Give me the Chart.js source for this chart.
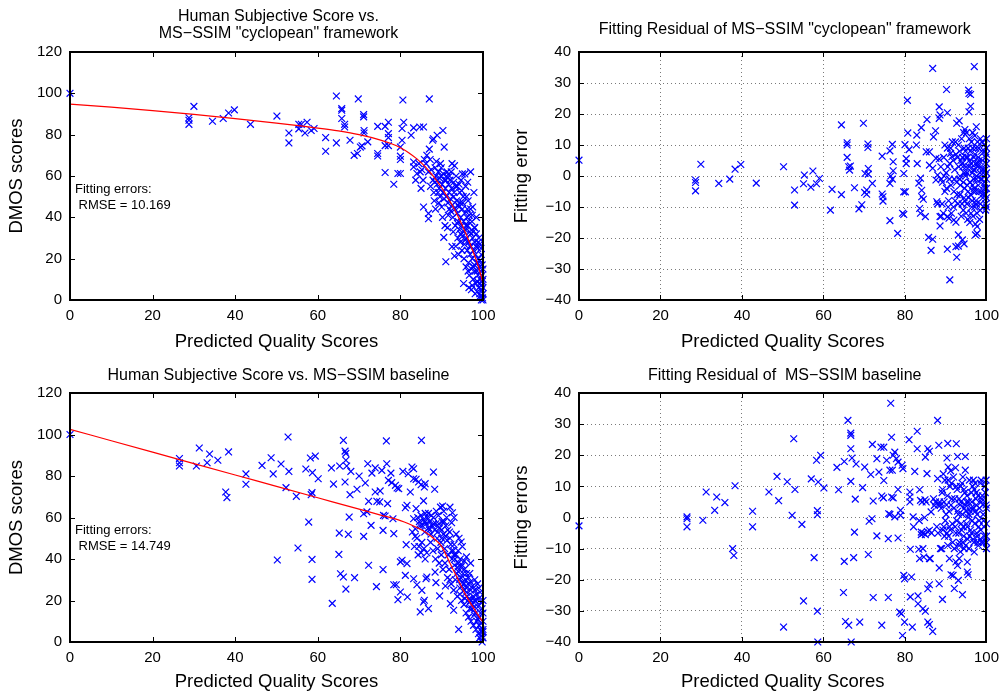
<!DOCTYPE html>
<html lang="en">
<head>
<meta charset="UTF-8">
<title>MS-SSIM fitting</title>
<script src="https://cdn.jsdelivr.net/npm/chart.js@4.4.3/dist/chart.umd.min.js"></script>
<style>
    * {
        margin: 0;
        padding: 0;
    }
    body {
        width: 1006px;
        height: 692px;
        background: #fff;
        position: relative;
        overflow: hidden;
    }
    canvas {
        position: absolute;
    }
</style>
</head>
<body>
<canvas id="cycScore" width="503" height="352" style="left:0;top:0"></canvas>
<canvas id="cycRes" width="503" height="352" style="left:503px;top:0"></canvas>
<canvas id="baseScore" width="503" height="346" style="left:0;top:346px"></canvas>
<canvas id="baseRes" width="503" height="346" style="left:503px;top:346px"></canvas>
<script>
const FONT = '"Liberation Sans", Arial, Helvetica, sans-serif';

// ---- data: [predicted score, value] ----
const cycScores = [
    [0,100],[28.8,88.2],[28.8,87],[28.8,85],[30,93.7],[34.5,86.5],[37.1,87.8],[38.4,90.5],[39.8,92],[43.7,85],
    [50.1,89],[53,80.8],[53,76],[55.4,85],[55.4,82.8],[56,85],[57.4,86],[56.9,80.8],[58.4,82],[59.1,83],
    [61.9,78.6],[61.9,72],[64.5,98.7],[64.5,76],[65.8,92.6],[65.8,91.8],[65.8,87.8],[66.5,85],[66.5,83.7],[67.8,77.3],
    [69.8,97.3],[68.8,70],[69.6,70.9],[70.3,74],[70.7,74.6],[71.1,89.7],[71.1,88.6],[71.2,82],[71.2,80.8],[72.1,76.5],
    [74.5,84],[74.5,70.9],[74.5,69.7],[76.3,84],[77.1,86],[77.1,80.5],[77.1,78.6],[76.3,74.7],[77.1,74.7],[76.3,61.7],
    [78.4,56],[79.4,61.2],[80,61.2],[80,68],[80,69.6],[80.4,83],[80.8,86],[80.6,96.8],[80.4,77.3],[80,74],
    [82.6,79.7],[83.2,83.3],[84.7,83.7],[85.6,83.7],[87,97.3],[87.8,77.3],[88.9,79.7],[88,78],[90.3,82],[90.6,74],
    [83.2,66.8],[83.2,64.4],[84,61.2],[83.7,58],[85,54],[85.6,45],[86.8,41.9],[86.8,39.3],[90.5,30.3],[91,18.5],
    [92.5,25.8],[93.1,21.3],[84.5,66],[85.2,63],[85.8,68],[86.4,70],[87,73],[85.5,58],[84.8,62],
    [86.2,66],[86.8,62],[87.2,68],[87.5,63],[87.9,58],[87.3,55],[88.1,52],[88.4,64],[88.6,60],[88.2,48],
    [88.9,56],[88.7,67],[88.5,44],[89,58],[89.2,62],[89.4,54],[89.6,50],[89.8,60],[89.3,47],[89.9,64],
    [90.1,56],[90.3,52],[90,45],[90.4,61],[90.2,40],[89.7,66],[90.7,58],[90.9,54],[91.1,50],[91.3,62],
    [91.5,47],[91.7,56],[91.9,44],[91.2,60],[91.6,41],[91.8,52],[90.8,36],[91.4,35],[92,58],[92.1,49],
    [92.3,62],[92.4,54],[92.6,46],[92.7,40],[92.9,57],[93,52],[93.2,44],[93.3,36],[93.5,60],[93.6,48],
    [93.8,42],[93.9,30],[92.8,33],[93.4,26],[93.7,55],[94,38],[92.5,66],[93.1,65],[94.2,45],[94.3,34],
    [94.4,52],[94.5,28],[94.6,40],[94.7,58],[94.8,36],[94.9,24],[95,44],[95.1,31],[95.2,50],[95.3,38],
    [95.4,20],[95.5,27],[95.6,42],[95.7,34],[95.8,55],[95.9,16],[94.1,22],[95,61],[95.6,61],[94.5,47],
    [95.3,8],[96,30],[96.1,40],[96.2,24],[96.3,36],[96.4,48],[96.5,18],[96.6,28],[96.7,12],[96.8,33],
    [96.9,22],[97,44],[97.1,26],[97.2,15],[97.3,38],[97.4,20],[97.5,30],[97.6,10],[97.7,24],[97.8,52],
    [97.9,17],[97,62],[96.3,57],[96.6,6],[97.4,7],[97.9,35],[97.5,45],[96,50],[98,28],[98.1,14],
    [98.2,22],[98.3,8],[98.4,32],[98.5,18],[98.6,4],[98.7,25],[98.8,12],[98.9,20],[99,6],[99.1,16],
    [99.2,27],[99.3,10],[99.4,2],[99.5,14],[99.6,22],[99.7,5],[99.8,9],[99.9,1],[100,3],[100,0],
    [99.8,17],[99.2,3],[98.4,40],[99,30],[98.6,9],[99.5,7],[100,6],[99.6,0],
    [88.3,57],[89.1,52],[89.5,59],[90.6,49],[91,58],[91.9,60],[92.2,43],[92.9,50],[93.4,55],[93.8,37],
    [94.2,56],[94.6,32],[95.1,47],[95.4,33],[95.7,29],[96.2,44],[96.5,38],[96.8,26],[97.1,32],[97.4,41],
    [97.7,16],[98,35],[98.3,26],[98.6,14],[98.9,28],[99.2,19],[99.5,25],[99.8,12],[100,15],[100,10],
    [96.4,14],[97.2,5],[98.1,3],[98.7,18],[99.3,8],[94.8,53],[93.9,46],[95.9,36],[96.7,41],[97.6,33]
];
const cycFit = [
    [0,94.8],[10,93.3],[20,91.6],[30,89.8],[40,87.8],[50,85.6],[60,83.2],[65,81.8],[70,80],[75,77.5],
    [78,75.5],[80,73.7],[82,71.3],[84,68.3],[86,64.5],[88,59.8],[90,54.3],[92,47.8],[94,40.3],[96,31.5],
    [98,21.3],[99,15.5],[100,8]
];
const cycResidual = [
    [0,5.1],[28.6,-1.3],[28.6,-2.1],[28.6,-4.8],[29.9,3.8],[34.3,-2.4],[37,-1],[38.3,2.2],[39.7,3.7],[43.5,-2.3],
    [50.2,3],[52.9,-4.5],[52.9,-9.4],[55.3,0.3],[55.1,-2.5],[56.9,-3.6],[57.4,1.6],[58.3,-2.5],[59,-0.8],[61.7,-11],
    [62.1,-4.3],[64.4,16.5],[64.4,-6],[65.8,10.7],[65.8,10],[65.8,6],[66.2,3],[66.4,1.9],[66.6,3.2],[67.6,-3.8],
    [68.7,-10.6],[69.4,-9.3],[69.8,17],[70.2,0.8],[70.6,-4.5],[70.1,-5.3],[70.6,-5.9],[70.9,10.3],[70.9,9.2],[71,2.4],
    [71,0.6],[72,-2.4],[74.4,6.4],[74.4,-5.8],[74.6,-6.7],[74.6,-8.1],[76.3,8.1],[76.5,0],[76.3,-2.4],[76.3,-14.4],
    [76.9,10.2],[77.1,4.6],[77.1,1.7],[76.9,-1],[78.2,-18.5],[79.4,-12],[79.7,-12.4],[79.7,0.8],[79.7,-5.1],[80.1,-5.1],
    [80,10.1],[80.3,5.6],[80.3,4],[80.6,24.4],[80.7,13.9],[81,8.5],[82.8,10],[82.9,13.2],[83,4],[83.4,-2.3],
    [83.8,-0.7],[83.6,-10.5],[83.8,-12],[84,15.6],[84.1,-4.6],[84.1,-6.7],[84.5,-7.5],[85,-13.1],[85.4,18.2],[85.2,7.8],
    [86,7.8],[85.8,-19.8],[86.8,-20.4],[86.4,-24],[86.8,34.7],[87,12.6],[87.5,14.6],[86,3.5],[86.8,2.5],[87.6,5.7],
    [88.4,5.5],[87.6,-1.3],[88,0.3],[87.8,-8.3],[88,-9],[88.4,22.3],[88.6,19.7],[88.4,18.6],[88.6,-13.1],[88.6,-16.1],
    [90.2,27.9],[90.4,20.4],[90.4,-23.6],[91,-33.5],[90.4,-13.1],[90.8,-13.6],[92,-14.2],[92.5,-14.9],[92.7,-26.2],[92.5,-22.8],
    [93.1,-22.6],[93.1,-19],[94.1,-20.6],[94.5,-21.9],[95.6,27.7],[95.7,26.6],[96.1,26.3],[96.1,22.5],[95.7,20.7],[97,35.3],
    [97.5,15.9],[97.3,-19],[97.7,-18.5],[97.3,-15.5],[97.7,-16.3],[92.7,17],[93.3,17.8],[91.2,7.3],[91.5,6.2],
    [88.8,3],[89.2,-2],[89.5,6],[89.8,-5],[90.1,1],[90.4,9],[90.7,-8],[91,4],[91.3,-3],[91.6,11],
    [91.9,-10],[92.2,2],[92.5,7],[92.8,-6],[93.1,10],[93.4,-1],[93.7,5],[94,-9],[94.2,3],[94.4,14],
    [94.6,-4],[94.8,8],[95,-12],[95.2,1],[95.4,6],[95.6,-7],[95.8,12],[96,-2],[96.2,4],[96.4,-10],
    [96.6,9],[96.8,-5],[97,2],[97.2,7],[97.4,-8],[97.6,0],[97.8,11],[98,-3],[98.2,5],[98.4,-11],
    [98.6,3],[98.8,8],[99,-6],[99.2,1],[99.4,10],[99.6,-4],[99.8,6],[100,-1],[100,-7],[100,4],
    [100,12],[99.8,-9],[99.5,-2],[99.1,-7],[98.9,-1],[98.5,12],[98.1,9],[97.7,-12],[97.3,4],[96.9,-1],
    [96.5,1],[96.1,-6],[95.7,3],[95.3,-3],[94.9,0],[94.5,-7],[94.1,6],[93.6,-3],[93.2,3],[92.7,-2],
    [92.3,-8],[91.8,5],[91.4,-12],[90.9,-1],[90.5,3],[90.2,-4],[89.6,0],[89.1,-9],[88.9,-1],[95.5,9],
    [96.3,11],[95.1,14],[94.7,15],[97.1,13],[98.3,-14],[99.3,-10],[96.7,-13],[95.9,-15],[97.5,-9],[98.7,-5],
    [99.7,2],[96.9,6],[95.2,-9],[94.3,-11],[93.8,-13],[93,-9],[92,-5],[97.9,3],[98.4,1],[99,5],
    [99.4,-3],[100,9],[100,-4],[94.6,1],[95.8,5],[96.6,-3],[97.4,9],[93.4,8],[92.4,11],[91.2,9],
    [90.6,-10],[89.4,-12],[88.9,-13],[89.8,10],[100,1],
    [93.5,0],[94,4],[94.5,9],[95,6],[95.5,-5],[96,8],[96.5,-8],[97,-4],[97.5,-1],[98,6],
    [98.5,-9],[99,2],[99.5,8],[100,-10],[100,7],[99.7,-6],[98.2,-5],[97.8,4],[96.8,2],[95.9,-2],
    [95,3],[94.3,-2],[93.9,12],[92.9,6],[92.1,-1],[97.1,-10],[96.2,-12],[98.9,11],[99.8,-11],[96.6,14],
    [95.4,-14],[94.7,-8],[93.5,-6],[98.6,-1],[97.3,-5]
];
const baseScores = [
    [0,100],[26.5,88.4],[26.5,86.4],[26.5,84.8],[30.6,84.8],[31.3,93.5],[33.2,86.4],[33.8,90.6],[35.8,87.6],[37.7,72.3],
    [38,69.6],[38.4,91.6],[42.6,81],[42.6,76],[46.5,85.1],[48.7,88.8],[49.2,81],[50.2,39.5],[51.1,85.8],[52.3,74.4],
    [52.8,98.8],[53,82.2],[54.8,70.2],[55.2,45.3],[57.1,83.4],[57.8,57.8],[58.2,88.7],[59.4,89.6],[58.6,72],[58.4,71],
    [58.7,81.6],[58.6,39.8],[58.6,30.2],[60.1,78.7],[63.3,83.9],[63.5,18.6],[63.8,76.1],[65.2,52.5],[65.1,42.2],[65.3,84.8],
    [65.5,32.9],[66.2,31.3],[66.2,97.2],[66.6,92],[66.8,90.9],[66.8,87.6],[67,84.8],[66.6,77.1],[66.8,25.5],[67.4,51.9],
    [67.6,60.2],[67.8,71],[68,82.2],[68.9,31],[69.5,73.6],[70,80],[71.1,50.9],[71.1,61.8],[71.9,62.7],[71.5,76.6],
    [72.1,85.9],[72.3,37],[72.3,67.8],[72.9,56.2],[73.1,81.4],[73.9,83.9],[73.9,72.3],[74.2,26.7],[74.3,67.8],[75,67.5],
    [75.1,72.8],[75.5,82.7],[75.8,53.8],[75.8,34.9],[75.9,61],[76.3,60.7],[76.6,96.9],[76.7,85.9],[76.9,66.7],[77.1,77.9],
    [77.7,81.4],[77.9,76.8],[78.4,52.2],[78.2,59.4],[78.4,27.6],[79,27.6],[78.8,75.5],[79.2,74.2],[79.6,73.9],[79.4,20.4],
    [80,24.1],[80,38.6],[80.4,39.4],[80.6,82.2],[81.2,64.7],[81.6,65.9],[81.4,46.9],[81.6,37.8],[81.2,32.1],[81.7,21.7],
    [81.9,81.1],[82.4,72.3],[82.8,84.3],[83.2,83.5],[83.2,78.7],[83.8,78.4],[83.2,30.5],[84,27.6],[83.8,64.3],[83.2,59.4],
    [83.6,54.6],[84.4,77.1],[85,75.8],[84.8,14.5],[85.1,97.2],[85.2,24.9],[85.6,19.3],[85.8,20.1],[85.6,68],[86,76.3],
    [85.8,74.7],[86.8,16.1],[86.4,31.3],[86.2,30.5],[88,81.9],[88.3,73.6],[88.4,33.7],[88.6,28.6],[89.5,22.2],[90.2,65.5],
    [92.6,62.3],[92.4,57.5],[94.7,48.2],[92.1,18.5],[92.9,15.3],[94.1,6.1],
    [84.2,60],[84.6,58],[85,61],[85.3,56],[85.6,59],[85.9,53],[86.2,57],[86.5,60],[86.8,55],[87.1,58],
    [87.4,52],[87.7,56],[88,60],[88.3,54],[88.6,57],[88.9,50],[89.2,61],[89.5,55],[89.8,48],[90.1,58],
    [90.4,52],[90.7,45],[91,56],[91.3,49],[91.6,42],[91.9,53],[92.2,47],[92.5,40],[92.8,44],[93.1,37],
    [93.4,42],[93.7,33],[94,38],[94.3,30],[94.6,36],[94.9,27],[95.2,33],[95.5,25],[95.8,30],[96.1,22],
    [96.4,28],[96.7,19],[97,25],[97.3,16],[97.6,22],[97.9,13],[98.2,20],[98.5,10],[98.8,17],[99.1,8],
    [99.4,14],[99.7,5],[100,10],[100,2],[100,6],[99.8,0],[99.5,3],
    [84,50],[84.5,46],[85,43],[85.2,48],[84.3,42],[85.7,45],[86,40],[86.4,43],[84.8,56],[83.6,51],
    [83.4,46],[82.9,53],[86.8,62],[87.3,48],[87.9,44],[88.5,40],[89,45],[89.4,38],[89.9,42],[90.3,35],
    [90.8,38],[91.4,31],[91.8,35],[92.3,28],[92.9,25],[93.3,30],[93.8,22],[94.4,26],[94.8,20],[95.4,18],
    [95.9,14],[96.5,12],[97.1,10],[97.7,8],[98.3,6],[98.9,4],[99.2,2],
    [92,65],[93,60],[94,44],[94.5,40],[95,37],[95.5,35],[96,33],[96.5,31],[97,29],[97.5,27],
    [98,25],[98.5,23],[99,21],[99.5,19],[100,20],[93.5,52],[94.2,50],[95,46],[96,41],[97,38],
    [95.5,39],[96.8,33],[98,30],[99,26],[91.2,60],[90.5,63],[89.7,65],[88.7,63],[87.5,61],[86,62],
    [89.3,57],[90,54],[91,51],[92,50],[93,47],[94,34],[95,29],[96,26],[97,20],[98,17],
    [99,12],[100,14],[98.7,28],[99.3,24],[99.8,16],
    [86,58],[87,54],[88,57],[89,53],[90,50],[90.6,58],[91.5,54],[92.4,44],[93.2,40],[93.9,36],
    [94.6,31],[95.3,28],[96,24],[96.7,21],[97.4,18],[98.1,14],[98.8,11],[99.5,9],[100,5],[94.4,23],
    [95.6,21],[96.8,16],[97.9,20],[99.4,6],[93,42],[92,30],[90.9,27]
];
const baseFit = [
    [0,102.5],[10,97],[20,91.5],[30,86],[40,80.5],[50,75],[60,69.5],[70,64],[75,61.3],[80,58.5],
    [82,57],[84,55.2],[86,53],[88,50],[90,46],[92,38],[93,34],[94,30],[96,22],[98,15.5],
    [100,9.5]
];
const baseResidual = [
    [0,-2.7],[26.5,0.2],[26.5,-0.4],[26.5,-3],[30.4,-0.9],[31.2,8.2],[33.3,2.3],[33.8,6.6],[35.8,4.8],[37.7,-10],
    [38,-12.2],[38.3,10.2],[42.6,2],[42.6,-3],[46.6,8.2],[48.6,13.2],[49,5.4],[50.2,-35.2],[51.1,11.5],[52.3,0.7],
    [52.7,25.3],[53,9],[54.7,-2.2],[55.1,-26.8],[57,12.4],[57.7,-12.9],[58.3,18.4],[58.6,-40],[58.5,2.2],[58.5,0.9],
    [58.5,-30.1],[58.7,11.4],[59.3,20],[60.1,9.5],[63.3,16.1],[63.7,8.9],[65.1,18],[65.1,-14.1],[64.9,-24.1],[65.4,-33.4],
    [66.2,-34.6],[66,31.2],[66.7,27.1],[66.7,26.4],[66.7,22.1],[66.7,11.6],[67,19.1],[66.8,-40],[67.4,-12.9],[67.6,-4.7],
    [67.8,5.9],[68,17.2],[68.9,-33.6],[69.6,9.6],[70.1,16.2],[71,-11.9],[71.2,-1.2],[71.9,-0.4],[71.6,13.8],[72,23.5],
    [72.2,5.3],[72.2,-25.7],[73.1,-5.9],[73.1,18.9],[73.6,14.6],[74.1,22.6],[74.8,22.6],[74.3,6.9],[74.7,6.3],[74.3,-34.6],
    [74.8,11.9],[75.5,18.4],[75.9,-6.8],[75.9,-25.7],[76,1.2],[76.3,1],[76.7,25.8],[76.5,36.7],[77.1,20],[77.5,21],
    [76.7,6.6],[77.1,6.3],[76.3,15.2],[76.9,15.2],[77.5,0.2],[77.9,18.9],[78.3,17.8],[78.3,9],[78.3,-6.6],[78.7,-30.4],
    [79.1,-30.9],[78.9,2.3],[78.9,0.7],[79.3,16.8],[79.5,15.7],[79.7,-18.6],[79.9,-19.7],[79.9,-33.6],[79.4,-37.9],[81,25],
    [81.2,8.2],[81.2,6.6],[81.2,5],[81.3,-10.2],[81.3,-25.5],[81.6,-19.1],[81.8,-35.2],[82,0.2],[82.1,-3],[82.4,14.8],
    [83,22.1],[83,27.7],[83.2,-25.2],[83.2,-27.7],[83.4,-10.2],[83.6,-13.2],[83.6,8.9],[84,-4.7],[84,-5.5],[84.4,-10],
    [84.6,-12.7],[84.4,-29.3],[85,-30.1],[84.9,5.7],[85.2,5],[85,19.4],[85.6,22.1],[86,21.3],[85.4,14.1],[85.6,-22.9],
    [86,-21.6],[85.6,-33.6],[86,-34.4],[86,-13.2],[86.2,-13.2],[86,-4.1],[86.4,1.8],[86.8,-36.6],[87.2,3.9],[88,31.2],
    [88.3,23.2],[88,12.5],[88.4,-16.2],[88.4,-21.3],[89.2,-26.3],[88.7,-10],[90.5,23.8],[90.3,19.1],[90.6,16.2],[90.9,-13.2],
    [91.3,-18.4],[91.8,-18.6],[92.1,-22.8],[92.5,-14.3],[92.9,-15.4],[92.6,23.7],[92.9,19.6],[93.1,-20.2],[93.3,-13.2],[94.1,-24.8],
    [94.8,19.6],[94.8,15.2],[95.3,-14.3],[95.3,-17.5],[95.5,-18.4],[97,-11.1],
    [88.5,5],[88.9,3],[89.2,9],[89.5,-3],[89.8,12],[90.1,1],[90.4,7],[90.7,-6],[91,10],[91.3,4],
    [91.6,-2],[91.9,13],[92.2,6],[92.5,-5],[92.8,9],[93.1,1],[93.4,-8],[93.7,5],[94,11],[94.3,-3],
    [94.6,3],[94.9,-9],[95.2,7],[95.5,0],[95.8,12],[96.1,-4],[96.4,5],[96.7,-7],[97,9],[97.3,2],
    [97.6,-5],[97.9,7],[98.2,-1],[98.5,11],[98.8,-8],[99.1,4],[99.4,-3],[99.7,8],[100,-2],[100,-8],
    [100,3],[100,-10],[99.9,12],[99.5,-6],[99.2,1],[98.9,6],[98.6,-4],[98.3,3],[98,-9],[97.7,1],
    [97.4,6],[97.1,-2],[96.8,12],[96.5,-1],[96.2,3],[95.9,-6],[95.6,5],[95.3,-3],[95,2],[94.7,8],
    [94.4,-6],[94.1,1],[93.8,-2],[93.5,4],[93.2,-5],[92.9,2],[92.6,10],[92.3,-3],[92,3],[91.7,-8],
    [91.4,11],[91.1,-4],[90.8,2],[90.5,-9],[90.2,4],[89.9,-1],[89.6,5],[89.3,-4],[89,-10],[88.7,4],
    [96.9,-8],[97.8,-6],[98.4,-7],[99.3,-8],[95.1,5],[96.3,8],[97.2,11],[98.7,12],[94.2,13],[93.6,10],
    [92.4,16],[91.2,15],[90.6,12],[89.4,14],[96,2],[97.5,4],[99,7],[95.7,-10],[94.5,-10],[93.3,-9],
    [92.1,-10],[90.9,-3],[89.7,-6],[83.8,5.5],[84.2,5],[84.5,-5],[85,-5.5],[85.5,-4.5],[83.5,-1],[84.8,0],
    [86.5,-5],[87,6],[87.5,5],[87.8,-3],[88.1,-5],
    [92.7,-1],[93.3,6],[93.9,-4],[94.5,9],[95.1,-2],[95.7,1],[96.3,-5],[96.9,3],[97.5,8],[98.1,-3],
    [98.7,5],[99.3,-1],[99.9,4],[100,-6],[99.6,10],[97.9,-8],[96.6,10],[95.4,-7],[94.8,4],[94.2,-8],
    [93.6,-11],[91.5,6],[90.3,-5],[89.1,8],[88.2,4]
];

const minus = v => (v < 0 ? '\u2212' + Math.abs(v) : String(v));

// frame, inward tick marks, titles and the RMSE note
const boxPlugin = {
    id: 'box',
    afterDatasetsDraw(chart, args, opts) {
        const { ctx, chartArea: a, scales: { x, y } } = chart;
        ctx.save();
        ctx.strokeStyle = '#000';
        ctx.lineWidth = 1;
        ctx.beginPath();
        x.ticks.forEach(t => {
            const px = Math.round(x.getPixelForValue(t.value)) + 0.5;
            ctx.moveTo(px, a.bottom); ctx.lineTo(px, a.bottom - 5);
            ctx.moveTo(px, a.top); ctx.lineTo(px, a.top + 5);
        });
        y.ticks.forEach(t => {
            const py = Math.round(y.getPixelForValue(t.value)) + 0.5;
            ctx.moveTo(a.left, py); ctx.lineTo(a.left + 5, py);
            ctx.moveTo(a.right, py); ctx.lineTo(a.right - 5, py);
        });
        ctx.stroke();
        ctx.lineWidth = 2;
        ctx.strokeRect(Math.round(a.left), Math.round(a.top),
            Math.round(a.right - a.left), Math.round(a.bottom - a.top));

        ctx.fillStyle = '#000';
        ctx.textAlign = 'center';
        ctx.textBaseline = 'middle';
        ctx.font = '16px ' + FONT;
        const cx = (a.left + a.right) / 2 + 2;
        opts.title.forEach((line, i) => ctx.fillText(line, cx, opts.titleY[i]));
        if (opts.note) {
            ctx.font = '13px ' + FONT;
            ctx.textAlign = 'left';
            opts.note.forEach((line, i) => ctx.fillText(line, a.left + 5, a.top + 137 + i * 16));
        }
        ctx.restore();
    }
};

function makeChart(id, c) {
    const canvas = document.getElementById(id);
    const w = canvas.width, h = canvas.height;
    new Chart(canvas, {
        type: 'scatter',
        data: {
            datasets: [
                ...(c.fit ? [{
                    type: 'line',
                    data: c.fit.map(([px, py]) => ({ x: px, y: py })),
                    borderColor: '#ff0000',
                    borderWidth: 1.2,
                    pointRadius: 0,
                    fill: false,
                    cubicInterpolationMode: 'monotone'
                }] : []),
                {
                    data: c.points.map(([px, py]) => ({ x: px, y: py })),
                    pointStyle: 'crossRot',
                    pointRadius: 4.8,
                    pointBorderWidth: 1.2,
                    borderColor: '#0000ff',
                    pointBorderColor: '#0000ff',
                    backgroundColor: 'transparent',
                    clip: false
                }
            ]
        },
        options: {
            responsive: false,
            animation: false,
            events: [],
            layout: { padding: { top: c.area.top, right: w - c.area.right, left: 0, bottom: 0 } },
            plugins: {
                legend: { display: false },
                tooltip: { enabled: false },
                box: { title: c.title, titleY: c.titleY, note: c.note }
            },
            scales: {
                x: {
                    type: 'linear', min: 0, max: 100,
                    ticks: { stepSize: 20, padding: 7, color: '#000', font: { family: FONT, size: 15 } },
                    grid: { display: c.grid, drawTicks: false, color: '#7a7a7a', lineWidth: 1 },
                    border: { display: false, dash: [1, 3] },
                    title: {
                        display: true, text: 'Predicted Quality Scores', color: '#000',
                        font: { family: FONT, size: 18.5, lineHeight: 1 }, padding: { top: 0, bottom: 1 }
                    },
                    afterFit: s => { s.height = h - c.area.bottom; }
                },
                y: {
                    type: 'linear', min: c.yMin, max: c.yMax,
                    ticks: { stepSize: c.yStep, padding: 8, color: '#000', font: { family: FONT, size: 15 }, callback: minus },
                    grid: { display: c.grid, drawTicks: false, color: '#7a7a7a', lineWidth: 1 },
                    border: { display: false, dash: [1, 3] },
                    title: {
                        display: true, text: c.yLabel, color: '#000',
                        font: { family: FONT, size: 18.5, lineHeight: 1 }, padding: { top: c.yTitlePad, bottom: 0 }
                    },
                    afterFit: s => { s.width = c.area.left; }
                }
            }
        },
        plugins: [boxPlugin]
    });
}

makeChart('cycScore', {
    points: cycScores, fit: cycFit, yMin: 0, yMax: 120, yStep: 20, yLabel: 'DMOS scores', grid: false,
    title: ['Human Subjective Score vs.', 'MS\u2212SSIM "cyclopean" framework'], titleY: [17, 34],
    note: ['Fitting errors:', ' RMSE = 10.169'],
    area: { left: 70, top: 52, right: 483, bottom: 300 }, yTitlePad: 8
});
makeChart('cycRes', {
    points: cycResidual, fit: null, yMin: -40, yMax: 40, yStep: 10, yLabel: 'Fitting error', grid: true,
    title: ['Fitting Residual of MS\u2212SSIM "cyclopean" framework'], titleY: [30],
    note: null,
    area: { left: 76, top: 52, right: 488, bottom: 300 }, yTitlePad: 10
});
makeChart('baseScore', {
    points: baseScores, fit: baseFit, yMin: 0, yMax: 120, yStep: 20, yLabel: 'DMOS scores', grid: false,
    title: ['Human Subjective Score vs. MS\u2212SSIM baseline'], titleY: [30],
    note: ['Fitting errors:', ' RMSE = 14.749'],
    area: { left: 70, top: 47, right: 483, bottom: 296 }, yTitlePad: 8
});
makeChart('baseRes', {
    points: baseResidual, fit: null, yMin: -40, yMax: 40, yStep: 10, yLabel: 'Fitting errors', grid: true,
    title: ['Fitting Residual of  MS\u2212SSIM baseline'], titleY: [30],
    note: null,
    area: { left: 76, top: 47, right: 488, bottom: 296 }, yTitlePad: 10
});
</script>
</body>
</html>
